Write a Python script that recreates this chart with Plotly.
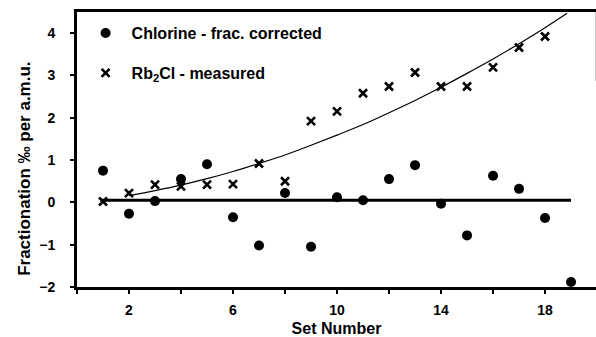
import plotly.graph_objects as go

# ---- data ----
set_numbers = list(range(1, 20))
chlorine_corrected = [0.75, -0.27, 0.03, 0.55, 0.90, -0.35, -1.02, 0.22, -1.05, 0.12,
                      0.05, 0.55, 0.88, -0.03, -0.78, 0.63, 0.32, -0.37, -1.88]

rb_sets = list(range(1, 19))
rb2cl_measured = [0.02, 0.22, 0.42, 0.38, 0.42, 0.43, 0.92, 0.50, 1.92, 2.15,
                  2.58, 2.74, 3.07, 2.74, 2.74, 3.19, 3.66, 3.92]

# fitted curve through Rb2Cl
fit_x = [2, 3, 4, 5, 6, 7, 8, 9, 10, 11, 12, 13, 14, 15, 16, 17, 18, 18.85]
fit_y = [0.16, 0.28, 0.41, 0.56, 0.73, 0.92, 1.12, 1.35, 1.59, 1.84, 2.12, 2.41,
         2.72, 3.05, 3.39, 3.75, 4.13, 4.47]

# mean line of corrected chlorine
mean_x = [0.9, 19.0]
mean_y = [0.05, 0.05]

x_tickvals = [2, 6, 10, 14, 18]
x_ticktext = ["2", "6", "10", "14", "18"]
y_tickvals = [-2, -1, 0, 1, 2, 3, 4]

FONT = "Liberation Sans, Arial, sans-serif"

fig = go.Figure()

fig.add_trace(go.Scatter(x=mean_x, y=mean_y, mode="lines",
                         line=dict(color="black", width=3), showlegend=False,
                         hoverinfo="skip"))
fig.add_trace(go.Scatter(x=fit_x, y=fit_y, mode="lines", line_shape="spline",
                         line=dict(color="black", width=1.2), showlegend=False,
                         hoverinfo="skip"))
fig.add_trace(go.Scatter(x=set_numbers, y=chlorine_corrected, mode="markers",
                         name="Chlorine - frac. corrected", legendgroup="a",
                         marker=dict(symbol="circle", size=10, color="black")))
fig.add_trace(go.Scatter(x=rb_sets, y=rb2cl_measured, mode="markers",
                         name="Rb<sub>2</sub>Cl - measured", legendgroup="b",
                         marker=dict(symbol="x-thin", size=8,
                                     line=dict(color="black", width=2.6))))

fig.update_layout(
    width=596, height=337,
    margin=dict(l=77, r=0, t=12, b=50),
    paper_bgcolor="white", plot_bgcolor="white",
    font=dict(family=FONT, color="black"),
    showlegend=True,
    legend=dict(x=0.005, xanchor="left", y=0.985, yanchor="top",
                bgcolor="rgba(0,0,0,0)", tracegroupgap=16,
                traceorder="grouped", itemwidth=42,
                font=dict(family=FONT, size=16, color="black", weight="bold")),
    xaxis=dict(range=[0, 19.96], tickvals=x_tickvals, ticktext=x_ticktext,
               showgrid=False, zeroline=False, showline=True, linecolor="black",
               linewidth=3, mirror=True, ticks="outside", ticklen=4, tickwidth=2,
               tickcolor="black", ticklabelstandoff=4,
               minor=dict(tick0=0, dtick=2, ticks="outside", ticklen=4, tickwidth=2,
                          tickcolor="black", showgrid=False),
               tickfont=dict(family=FONT, size=14, color="black", weight="bold"),
               title=dict(text="Set Number", standoff=9,
                          font=dict(family=FONT, size=16, color="black", weight="bold"))),
    yaxis=dict(range=[-2, 4.5], tickvals=y_tickvals,
               showgrid=False, zeroline=False, showline=True, linecolor="black",
               linewidth=3, ticks="outside", ticklen=4, tickwidth=2,
               tickcolor="black", ticklabelstandoff=12,
               tickfont=dict(family=FONT, size=14, color="black", weight="bold")),
    shapes=[dict(type="line", xref="paper", yref="paper", x0=1, x1=1, y0=0.75, y1=1,
                 line=dict(color="#888", width=1))],
    annotations=[dict(text="<b>Fractionation ‰ per a.m.u.</b>", textangle=-90,
                      xref="paper", yref="paper", x=-0.100, y=0.43,
                      xanchor="center", yanchor="middle", showarrow=False,
                      font=dict(family=FONT, size=17, color="black"))],
)

fig.write_html("out.html")
